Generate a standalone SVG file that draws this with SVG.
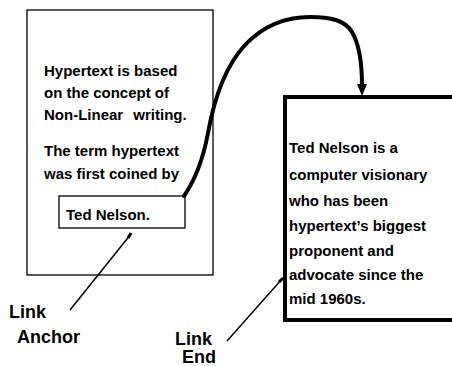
<svg xmlns="http://www.w3.org/2000/svg" width="452" height="366" viewBox="0 0 452 366">
<style>
.t{font-family:"Liberation Sans",Arial,sans-serif;font-weight:bold;font-size:15px;fill:#000}
.lbl{font-family:"Liberation Sans",Arial,sans-serif;font-weight:bold;font-size:18px;fill:#000}
.thin{fill:#fff;stroke:#000;stroke-width:1.3}
.thick{fill:#fff;stroke:#000;stroke-width:4}
.ptr{stroke:#000;stroke-width:1.5;fill:none}
</style>
<rect width="452" height="366" fill="#fff"/>
<g id="page1">
<rect class="thin" x="27" y="10" width="186" height="265"/>
<text class="t" x="44" y="76">Hypertext is based</text>
<text class="t" x="44" y="98">on the concept of</text>
<text class="t" x="44" y="120">Non-Linear <tspan dx="6">writing.</tspan></text>
<text class="t" x="44" y="156">The term hypertext</text>
<text class="t" x="44" y="179">was first coined by</text>
</g>
<g id="anchor">
<rect class="thin" x="59" y="196" width="126" height="32"/>
<text class="t" x="66" y="220">Ted Nelson.</text>
</g>
<g id="page2">
<path class="thick" d="M452,97 H285 V320 H452"/>
<text class="t" x="289" y="153">Ted Nelson is a</text>
<text class="t" x="289" y="180">computer visionary</text>
<text class="t" x="289" y="206">who has been</text>
<text class="t" x="289" y="231">hypertext’s biggest</text>
<text class="t" x="289" y="256">proponent and</text>
<text class="t" x="289" y="280">advocate since the</text>
<text class="t" x="289" y="304">mid 1960s.</text>
</g>
<g id="label-anchor">
<text class="lbl" x="9" y="318">Link</text>
<text class="lbl" x="17" y="343">Anchor</text>
</g>
<g id="label-end">
<text class="lbl" x="175" y="345">Link</text>
<text class="lbl" x="182" y="363">End</text>
</g>
<g id="connectors">
<path d="M184,196 C195,180 203,160 208,133 C213,105 222,70 245,45 C262,27 285,17 310,17 C330,17 345,20 352,32 C359,44 362,65 362,85" fill="none" stroke="#000" stroke-width="4" stroke-linecap="round"/>
<polygon points="357,84 367,84 362,96" fill="#000"/>
<line class="ptr" x1="131" y1="234" x2="70" y2="310"/>
<line x1="131" y1="233" x2="128" y2="238" stroke="#000" stroke-width="3"/>
<line class="ptr" x1="282" y1="279" x2="227" y2="341"/>
<line x1="283" y1="278" x2="279" y2="282" stroke="#000" stroke-width="3"/>
</g>
</svg>
